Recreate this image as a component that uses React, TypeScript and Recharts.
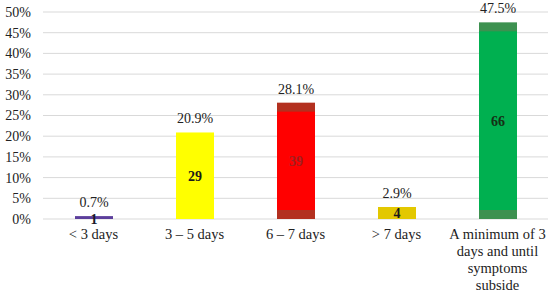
import React from "react";
import {
  Bar,
  BarChart,
  CartesianGrid,
  Cell,
  LabelList,
  XAxis,
  YAxis,
} from "recharts";

const categories = [
  "< 3 days",
  "3 – 5 days",
  "6 – 7 days",
  "> 7 days",
  "A minimum of 3\ndays and until\nsymptoms\nsubside",
];
const percentages = [0.7, 20.9, 28.1, 2.9, 47.5];
const counts = [1, 29, 39, 4, 66];
const yTicks = [0, 5, 10, 15, 20, 25, 30, 35, 40, 45, 50];

const barColors = ["#5c3f9c", "#ffff00", "#ff0000", "#e3c800", "#00b050"];
const bandColors = [null, null, "#b3301f", null, "#3d9150"];
const countColors = ["#1a1a2a", "#1a1a1a", "#a31e1e", "#1a1a1a", "#153015"];

const data = categories.map((name, i) => ({
  name,
  pct: percentages[i],
  count: counts[i],
  idx: i,
}));

const FONT = "'Liberation Serif', 'DejaVu Serif', serif";

function BandedBar(props: any) {
  const { x, y, width, height, idx } = props;
  const band = bandColors[idx];
  if (!band) {
    return <rect x={x} y={y} width={width} height={Math.max(height, 2)} fill={barColors[idx]} />;
  }
  const inset = 9;
  return (
    <g>
      <rect x={x} y={y} width={width} height={height} fill={band} />
      <rect
        x={x}
        y={y + inset}
        width={width}
        height={Math.max(0, height - inset * 2)}
        fill={barColors[idx]}
      />
    </g>
  );
}

function CategoryTick(props: any) {
  const { x, y, payload } = props;
  const lines = String(payload.value).split("\n");
  return (
    <text x={x} y={y + 12} textAnchor="middle" fontFamily={FONT} fontSize={14.5} fill="#222">
      {lines.map((l, i) => (
        <tspan key={i} x={x} dy={i === 0 ? 0 : 17}>
          {l}
        </tspan>
      ))}
    </text>
  );
}

function CountLabel(props: any) {
  const { x, y, width, height, value, index } = props;
  const cy = height < 10 ? y + height / 2 + 1 : y + height / 2;
  return (
    <text
      x={x + width / 2}
      y={cy}
      dy={5}
      textAnchor="middle"
      fontFamily={FONT}
      fontSize={14}
      fontWeight="bold"
      fill={countColors[index]}
    >
      {value}
    </text>
  );
}

export default function App() {
  return (
    <div style={{ position: "absolute", left: 0, top: 0, background: "#fff" }}>
      <BarChart
        width={550}
        height={296}
        data={data}
        margin={{ top: 12, right: 2, bottom: 0, left: 0 }}
        barSize={38}
      >
        <CartesianGrid vertical={false} stroke="#d9d9d9" />
        <XAxis
          dataKey="name"
          axisLine={false}
          tickLine={false}
          interval={0}
          height={77}
          tick={<CategoryTick />}
        />
        <YAxis
          domain={[0, 50]}
          ticks={yTicks}
          interval={0}
          width={43}
          axisLine={false}
          tickLine={false}
          tickMargin={6}
          tickFormatter={(v: number) => `${v}%`}
          tick={{ fontFamily: FONT, fontSize: 14, fill: "#222" }}
        />
        <Bar dataKey="pct" isAnimationActive={false} shape={<BandedBar />}>
          {data.map((d) => (
            <Cell key={d.name} fill={barColors[d.idx]} />
          ))}
          <LabelList
            dataKey="pct"
            position="top"
            offset={9}
            formatter={(v: any) => `${v}%`}
            style={{ fontFamily: FONT, fontSize: 14, fill: "#222" }}
          />
          <LabelList dataKey="count" content={<CountLabel />} />
        </Bar>
      </BarChart>
    </div>
  );
}
